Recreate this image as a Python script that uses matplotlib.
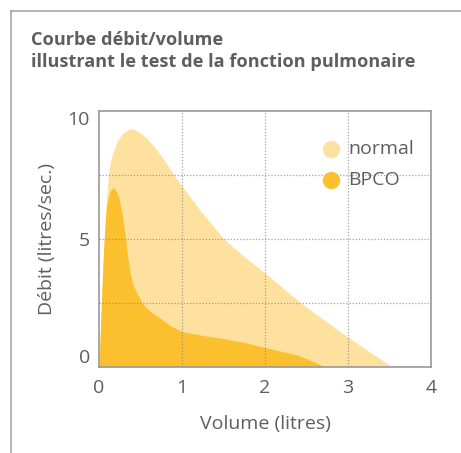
import matplotlib
matplotlib.use("Agg")
import matplotlib.pyplot as plt
from matplotlib.lines import Line2D

# --- data ---
normal_vol = [0, 0.02, 0.04, 0.06, 0.08, 0.10, 0.12, 0.157, 0.217, 0.28, 0.377, 0.47,
              0.578, 0.70, 0.80, 0.90, 1.0, 1.22, 1.5, 1.75, 2.0, 2.1, 2.44, 2.7, 2.98, 3.25, 3.53]
normal_flow = [0, 1.9, 3.3, 4.8, 6.0, 7.0, 7.7, 8.27, 8.79, 9.1, 9.31, 9.2,
               8.92, 8.46, 8.0, 7.5, 7.05, 6.1, 5.0, 4.3, 3.66, 3.39, 2.47, 1.85, 1.2, 0.6, 0]

bpco_vol = [0, 0.024, 0.036, 0.05, 0.064, 0.08, 0.096, 0.13, 0.169, 0.20, 0.237, 0.277,
            0.317, 0.345, 0.377, 0.405, 0.438, 0.518, 0.618, 0.739, 0.86, 1.0, 1.25, 1.5,
            1.75, 2.0, 2.2, 2.38, 2.5, 2.58, 2.65, 2.72]
bpco_flow = [0, 1.95, 3.1, 4.2, 5.08, 5.85, 6.38, 6.85, 7.0, 6.9, 6.64, 6.0,
             5.08, 4.3, 3.65, 3.25, 3.0, 2.48, 2.15, 1.89, 1.6, 1.37, 1.22, 1.1,
             0.95, 0.75, 0.6, 0.46, 0.32, 0.2, 0.1, 0]

x_ticks = [0, 1, 2, 3, 4]
y_ticks = [0, 5, 10]
series_names = ["normal", "BPCO"]

c_normal = "#FEE19E"
c_bpco = "#FCC02E"
c_text = "#5e5e5e"
c_frame = "#a8a8a8"

plt.rcParams["font.family"] = ["Open Sans", "DejaVu Sans"]

W, H = 461, 453
fig = plt.figure(figsize=(W / 100, H / 100), dpi=100)

def fx(px):
    return px / W

def fy(py):
    return 1 - py / H

# outer frame (top + left rule)
fig.add_artist(Line2D([fx(11), 1], [fy(11), fy(11)], color=c_frame, lw=1.2))
fig.add_artist(Line2D([fx(11), fx(11)], [fy(11), 0], color=c_frame, lw=1.2))

# title
fig.text(fx(31), fy(45), "Courbe débit/volume", fontsize=13.1, fontweight="bold",
         color=c_text, va="baseline")
fig.text(fx(31), fy(66.7), "illustrant le test de la fonction pulmonaire", fontsize=13.1,
         fontweight="bold", color=c_text, va="baseline")

ax = fig.add_axes([fx(99), fy(366.7), fx(431) - fx(99), fy(110.7) - fy(366.7)])
ax.fill_between(normal_vol, normal_flow, 0, color=c_normal, lw=0, zorder=1)
ax.fill_between(bpco_vol, bpco_flow, 0, color=c_bpco, lw=0, zorder=2)

ax.set_xlim(0, 4)
ax.set_ylim(0, 10)

# dotted grid, inner lines only
for gx in [1, 2, 3]:
    ax.axvline(gx, color="#8c8c8c", lw=0.9, ls=(0, (1, 1.5)), alpha=0.8, zorder=3)
for gy in [2.5, 5, 7.5]:
    ax.axhline(gy, color="#8c8c8c", lw=0.9, ls=(0, (1, 1.5)), alpha=0.8, zorder=3)

for s in ax.spines.values():
    s.set_color("#9a9a9a")
    s.set_linewidth(1.2)

ax.set_xticks(x_ticks)
ax.set_yticks(y_ticks)
ax.tick_params(length=0, labelsize=14, labelcolor=c_text)
ax.tick_params(axis="x", pad=9)
ax.tick_params(axis="y", pad=6.5)
ylabels = ax.get_yticklabels()
ylabels[0].set_va("bottom")
ylabels[2].set_va("top")

ax.set_xlabel("Volume (litres)", fontsize=14, color=c_text, labelpad=13)
ax.set_ylabel("Débit (litres/sec.)", fontsize=14, color=c_text, labelpad=8)

# legend: dots + labels
for name, col, py in zip(series_names, [c_normal, c_bpco], [149, 180]):
    fig.add_artist(Line2D([fx(331)], [fy(py)], marker="o", ms=12.5, color=col, lw=0,
                          markeredgewidth=0))
    fig.text(fx(348), fy(py), name, fontsize=14, color=c_text, va="center", ha="left")

fig.savefig("out.png", dpi=100)
